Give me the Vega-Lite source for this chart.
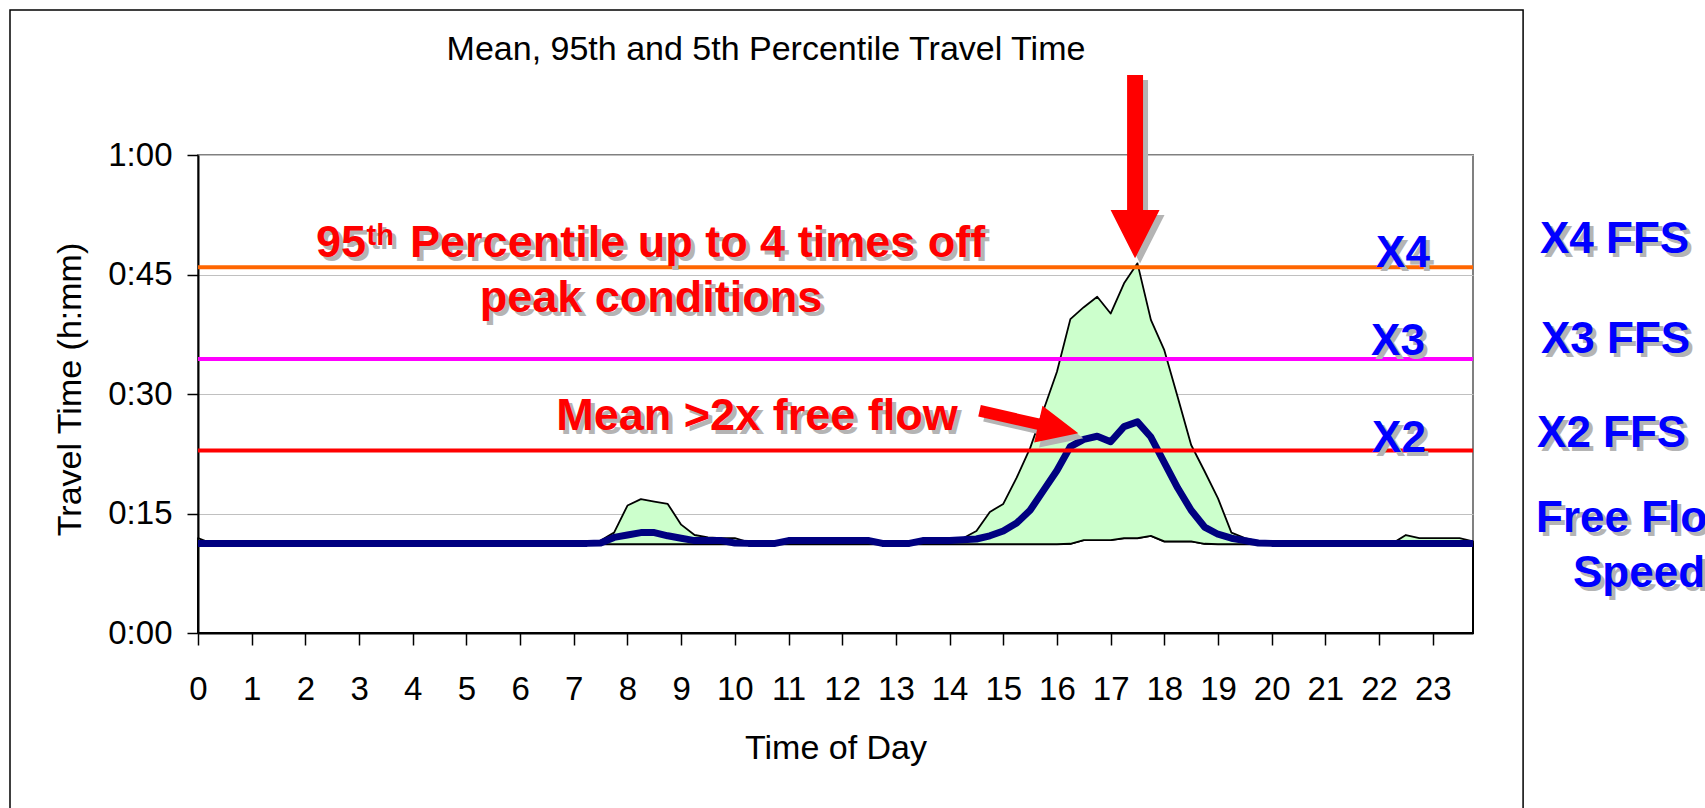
{
  "$schema": "https://vega.github.io/schema/vega-lite/v6.json",
  "width": 1275,
  "height": 478,
  "autosize": {"type": "none"},
  "padding": {"left": 198, "top": 155, "right": 232, "bottom": 175},
  "background": "white",
  "config": {
    "view": {"stroke": "#808080", "strokeWidth": 2},
    "axis": {
      "labelFont": "Liberation Sans", "labelFontSize": 33, "labelColor": "black",
      "titleFont": "Liberation Sans", "titleFontSize": 34, "titleFontWeight": "normal", "titleColor": "black",
      "domainColor": "black", "domainWidth": 2, "tickColor": "black", "tickWidth": 1.5,
      "gridColor": "#C0C0C0", "gridWidth": 1.2
    }
  },
  "datasets": {
    "tt": [
      {"hour":0,"p5":11.15,"mean":11.25,"p95":11.9},
      {"hour":0.25,"p5":11.15,"mean":11.25,"p95":11.25},
      {"hour":0.5,"p5":11.15,"mean":11.25,"p95":11.25},
      {"hour":0.75,"p5":11.15,"mean":11.25,"p95":11.25},
      {"hour":1,"p5":11.15,"mean":11.25,"p95":11.25},
      {"hour":1.25,"p5":11.15,"mean":11.25,"p95":11.25},
      {"hour":1.5,"p5":11.15,"mean":11.25,"p95":11.25},
      {"hour":1.75,"p5":11.15,"mean":11.25,"p95":11.25},
      {"hour":2,"p5":11.15,"mean":11.25,"p95":11.25},
      {"hour":2.25,"p5":11.15,"mean":11.25,"p95":11.25},
      {"hour":2.5,"p5":11.15,"mean":11.25,"p95":11.25},
      {"hour":2.75,"p5":11.15,"mean":11.25,"p95":11.25},
      {"hour":3,"p5":11.15,"mean":11.25,"p95":11.25},
      {"hour":3.25,"p5":11.15,"mean":11.25,"p95":11.25},
      {"hour":3.5,"p5":11.15,"mean":11.25,"p95":11.25},
      {"hour":3.75,"p5":11.15,"mean":11.25,"p95":11.25},
      {"hour":4,"p5":11.15,"mean":11.25,"p95":11.25},
      {"hour":4.25,"p5":11.15,"mean":11.25,"p95":11.25},
      {"hour":4.5,"p5":11.15,"mean":11.25,"p95":11.25},
      {"hour":4.75,"p5":11.15,"mean":11.25,"p95":11.25},
      {"hour":5,"p5":11.15,"mean":11.25,"p95":11.25},
      {"hour":5.25,"p5":11.15,"mean":11.25,"p95":11.25},
      {"hour":5.5,"p5":11.15,"mean":11.25,"p95":11.25},
      {"hour":5.75,"p5":11.15,"mean":11.25,"p95":11.25},
      {"hour":6,"p5":11.15,"mean":11.25,"p95":11.25},
      {"hour":6.25,"p5":11.15,"mean":11.25,"p95":11.25},
      {"hour":6.5,"p5":11.15,"mean":11.25,"p95":11.25},
      {"hour":6.75,"p5":11.15,"mean":11.25,"p95":11.25},
      {"hour":7,"p5":11.15,"mean":11.25,"p95":11.25},
      {"hour":7.25,"p5":11.15,"mean":11.25,"p95":11.25},
      {"hour":7.5,"p5":11.15,"mean":11.3,"p95":11.6},
      {"hour":7.75,"p5":11.15,"mean":12.0,"p95":12.6},
      {"hour":8,"p5":11.15,"mean":12.3,"p95":16.0},
      {"hour":8.25,"p5":11.15,"mean":12.6,"p95":16.8},
      {"hour":8.5,"p5":11.15,"mean":12.6,"p95":16.5},
      {"hour":8.75,"p5":11.15,"mean":12.2,"p95":16.2},
      {"hour":9,"p5":11.15,"mean":11.9,"p95":13.6},
      {"hour":9.25,"p5":11.15,"mean":11.6,"p95":12.3},
      {"hour":9.5,"p5":11.15,"mean":11.6,"p95":12.0},
      {"hour":9.75,"p5":11.15,"mean":11.6,"p95":11.9},
      {"hour":10,"p5":11.15,"mean":11.3,"p95":11.9},
      {"hour":10.25,"p5":11.15,"mean":11.25,"p95":11.4},
      {"hour":10.5,"p5":11.15,"mean":11.25,"p95":11.25},
      {"hour":10.75,"p5":11.15,"mean":11.25,"p95":11.25},
      {"hour":11,"p5":11.15,"mean":11.6,"p95":11.6},
      {"hour":11.25,"p5":11.15,"mean":11.6,"p95":11.6},
      {"hour":11.5,"p5":11.15,"mean":11.6,"p95":11.6},
      {"hour":11.75,"p5":11.15,"mean":11.6,"p95":11.6},
      {"hour":12,"p5":11.15,"mean":11.6,"p95":11.6},
      {"hour":12.25,"p5":11.15,"mean":11.6,"p95":11.6},
      {"hour":12.5,"p5":11.15,"mean":11.6,"p95":11.6},
      {"hour":12.75,"p5":11.15,"mean":11.25,"p95":11.25},
      {"hour":13,"p5":11.15,"mean":11.25,"p95":11.25},
      {"hour":13.25,"p5":11.15,"mean":11.25,"p95":11.25},
      {"hour":13.5,"p5":11.15,"mean":11.6,"p95":11.6},
      {"hour":13.75,"p5":11.15,"mean":11.6,"p95":11.6},
      {"hour":14,"p5":11.15,"mean":11.6,"p95":11.7},
      {"hour":14.25,"p5":11.15,"mean":11.7,"p95":11.9},
      {"hour":14.5,"p5":11.15,"mean":11.8,"p95":12.8},
      {"hour":14.75,"p5":11.15,"mean":12.2,"p95":15.2},
      {"hour":15,"p5":11.15,"mean":12.8,"p95":16.2},
      {"hour":15.25,"p5":11.15,"mean":13.8,"p95":19.5},
      {"hour":15.5,"p5":11.15,"mean":15.4,"p95":23.2},
      {"hour":15.75,"p5":11.15,"mean":17.9,"p95":28.0},
      {"hour":16,"p5":11.15,"mean":20.4,"p95":32.8},
      {"hour":16.25,"p5":11.2,"mean":23.4,"p95":39.4},
      {"hour":16.5,"p5":11.67,"mean":24.3,"p95":40.9},
      {"hour":16.75,"p5":11.67,"mean":24.7,"p95":42.2},
      {"hour":17,"p5":11.67,"mean":24.0,"p95":40.1},
      {"hour":17.25,"p5":11.9,"mean":25.9,"p95":43.9},
      {"hour":17.5,"p5":11.9,"mean":26.5,"p95":46.4},
      {"hour":17.75,"p5":12.2,"mean":24.6,"p95":39.3},
      {"hour":18,"p5":11.5,"mean":21.4,"p95":35.5},
      {"hour":18.25,"p5":11.5,"mean":18.2,"p95":29.6},
      {"hour":18.5,"p5":11.5,"mean":15.4,"p95":23.6},
      {"hour":18.75,"p5":11.2,"mean":13.3,"p95":20.3},
      {"hour":19,"p5":11.15,"mean":12.4,"p95":16.9},
      {"hour":19.25,"p5":11.15,"mean":11.9,"p95":12.6},
      {"hour":19.5,"p5":11.15,"mean":11.6,"p95":11.9},
      {"hour":19.75,"p5":11.15,"mean":11.3,"p95":11.5},
      {"hour":20,"p5":11.15,"mean":11.25,"p95":11.25},
      {"hour":20.25,"p5":11.15,"mean":11.25,"p95":11.25},
      {"hour":20.5,"p5":11.15,"mean":11.25,"p95":11.25},
      {"hour":20.75,"p5":11.15,"mean":11.25,"p95":11.25},
      {"hour":21,"p5":11.15,"mean":11.25,"p95":11.25},
      {"hour":21.25,"p5":11.15,"mean":11.25,"p95":11.25},
      {"hour":21.5,"p5":11.15,"mean":11.25,"p95":11.25},
      {"hour":21.75,"p5":11.15,"mean":11.25,"p95":11.25},
      {"hour":22,"p5":11.15,"mean":11.25,"p95":11.25},
      {"hour":22.25,"p5":11.15,"mean":11.25,"p95":11.25},
      {"hour":22.5,"p5":11.15,"mean":11.25,"p95":12.3},
      {"hour":22.75,"p5":11.15,"mean":11.25,"p95":11.9},
      {"hour":23,"p5":11.15,"mean":11.25,"p95":11.9},
      {"hour":23.25,"p5":11.15,"mean":11.25,"p95":11.9},
      {"hour":23.5,"p5":11.15,"mean":11.25,"p95":11.9},
      {"hour":23.75,"p5":11.15,"mean":11.25,"p95":11.5}
    ]
  },
  "layer": [
    {
      "data": {"name": "tt"},
      "encoding": {
        "x": {
          "field": "hour", "type": "quantitative",
          "scale": {"domain": [0, 23.75], "nice": false, "zero": false},
          "axis": {
            "values": [0,1,2,3,4,5,6,7,8,9,10,11,12,13,14,15,16,17,18,19,20,21,22,23],
            "title": "Time of Day", "grid": false, "tickSize": 12, "labelPadding": 28,
            "labelFlush": false, "labelOverlap": false, "labelBound": false,
            "titleY": 125, "titleBaseline": "alphabetic"
          }
        }
      },
      "layer": [
        {
          "mark": {"type": "area", "fillOpacity": 0, "stroke": "black", "strokeWidth": 2},
          "encoding": {
            "y": {
              "field": "p5", "type": "quantitative",
              "scale": {"domain": [0, 60], "nice": false},
              "axis": {
                "values": [0, 15, 30, 45, 60],
                "labelExpr": "floor(datum.value/60) + ':' + (datum.value % 60 < 10 ? '0' : '') + (datum.value % 60)",
                "title": "Travel Time (h:mm)", "grid": true, "tickSize": 11, "labelPadding": 15,
                "titleX": -118, "titleY": 234, "titleAngle": -90, "titleAlign": "center", "titleBaseline": "alphabetic"
              }
            }
          }
        },
        {
          "mark": {"type": "area", "fill": "#CCFFCC", "fillOpacity": 1, "stroke": "black", "strokeWidth": 1.8, "strokeJoin": "round"},
          "encoding": {
            "y": {"field": "p95", "type": "quantitative"},
            "y2": {"field": "p5"}
          }
        },
        {
          "mark": {"type": "line", "color": "#000080", "strokeWidth": 7, "strokeJoin": "round"},
          "encoding": {"y": {"field": "mean", "type": "quantitative"}}
        }
      ]
    },
    {
      "data": {"values": [{"level": "X4", "minutes": 45.9}, {"level": "X3", "minutes": 34.4}, {"level": "X2", "minutes": 22.9}]},
      "mark": {"type": "rule", "strokeWidth": 4},
      "encoding": {
        "y": {"field": "minutes", "type": "quantitative"},
        "color": {"field": "level", "type": "nominal", "scale": {"domain": ["X4", "X3", "X2"], "range": ["#FF6600", "#FF00FF", "#FF0000"]}, "legend": null}
      }
    },
    {
      "data": {"values": [{}]},
      "mark": {"type": "rect", "fillOpacity": 0, "stroke": "black", "strokeWidth": 1.5},
      "encoding": {
        "x": {"datum": -3.502, "type": "quantitative"},
        "x2": {"datum": 24.683},
        "y": {"datum": 78.2, "type": "quantitative"},
        "y2": {"datum": -25}
      }
    },
    {
      "data": {"values": [{}]},
      "layer": [
        {
          "mark": {"type": "point", "shape": "M-0.087,-1L0.087,-1L0.087,0.473L0.267,0.473L0,1L-0.267,0.473L-0.087,0.473Z", "size": 33599, "filled": true, "color": "#B4B4B4", "strokeWidth": 0, "opacity": 1},
          "encoding": {"x": {"datum": 17.548, "type": "quantitative"}, "y": {"datum": 57.9, "type": "quantitative"}}
        },
        {
          "mark": {"type": "point", "shape": "M-0.087,-1L0.087,-1L0.087,0.473L0.267,0.473L0,1L-0.267,0.473L-0.087,0.473Z", "size": 33599, "filled": true, "color": "#FF0000", "strokeWidth": 0, "opacity": 1},
          "encoding": {"x": {"datum": 17.455, "type": "quantitative"}, "y": {"datum": 58.53, "type": "quantitative"}}
        },
        {
          "mark": {"type": "point", "shape": "M-1,-0.115L0.19,-0.115L0.19,-0.371L1,0L0.19,0.371L0.19,0.115L-1,0.115Z", "size": 10262, "angle": 12.83, "filled": true, "color": "#B4B4B4", "strokeWidth": 0, "opacity": 1},
          "encoding": {"x": {"datum": 15.571, "type": "quantitative"}, "y": {"datum": 25.85, "type": "quantitative"}}
        },
        {
          "mark": {"type": "point", "shape": "M-1,-0.115L0.19,-0.115L0.19,-0.371L1,0L0.19,0.371L0.19,0.115L-1,0.115Z", "size": 10262, "angle": 12.83, "filled": true, "color": "#FF0000", "strokeWidth": 0, "opacity": 1},
          "encoding": {"x": {"datum": 15.478, "type": "quantitative"}, "y": {"datum": 26.48, "type": "quantitative"}}
        }
      ]
    },
    {
      "data": {"values": [{"label": "Mean, 95th and 5th Percentile Travel Time", "hour": 10.58, "minutes": 71.92}]},
      "mark": {"type": "text", "font": "Liberation Sans", "fontSize": 34, "color": "black", "align": "center", "baseline": "alphabetic"},
      "encoding": {
        "x": {"field": "hour", "type": "quantitative"},
        "y": {"field": "minutes", "type": "quantitative"},
        "text": {"field": "label"}
      }
    },
    {
      "data": {"values": [
        {"label": "95", "hour": 2.198, "minutes": 47.2},
        {"label": "Percentile up to 4 times off", "hour": 3.95, "minutes": 47.2}
      ]},
      "encoding": {
        "x": {"field": "hour", "type": "quantitative"},
        "y": {"field": "minutes", "type": "quantitative"},
        "text": {"field": "label"}
      },
      "layer": [
        {"mark": {"type": "text", "font": "Liberation Sans", "fontWeight": "bold", "fontSize": 45, "color": "#B4B4B4", "align": "left", "baseline": "alphabetic", "dx": 4, "dy": 4}},
        {"mark": {"type": "text", "font": "Liberation Sans", "fontWeight": "bold", "fontSize": 45, "color": "#FF0000", "align": "left", "baseline": "alphabetic"}}
      ]
    },
    {
      "data": {"values": [{"label": "th", "hour": 3.14, "minutes": 48.7}]},
      "encoding": {
        "x": {"field": "hour", "type": "quantitative"},
        "y": {"field": "minutes", "type": "quantitative"},
        "text": {"field": "label"}
      },
      "layer": [
        {"mark": {"type": "text", "font": "Liberation Sans", "fontWeight": "bold", "fontSize": 29, "color": "#B4B4B4", "align": "left", "baseline": "alphabetic", "dx": 4, "dy": 4}},
        {"mark": {"type": "text", "font": "Liberation Sans", "fontWeight": "bold", "fontSize": 29, "color": "#FF0000", "align": "left", "baseline": "alphabetic"}}
      ]
    },
    {
      "data": {"values": [
        {"label": "peak conditions", "hour": 8.438, "minutes": 40.33},
        {"label": "Mean >2x free flow", "hour": 10.413, "minutes": 25.48}
      ]},
      "encoding": {
        "x": {"field": "hour", "type": "quantitative"},
        "y": {"field": "minutes", "type": "quantitative"},
        "text": {"field": "label"}
      },
      "layer": [
        {"mark": {"type": "text", "font": "Liberation Sans", "fontWeight": "bold", "fontSize": 45, "color": "#B4B4B4", "align": "center", "baseline": "alphabetic", "dx": 4, "dy": 4}},
        {"mark": {"type": "text", "font": "Liberation Sans", "fontWeight": "bold", "fontSize": 45, "color": "#FF0000", "align": "center", "baseline": "alphabetic"}}
      ]
    },
    {
      "data": {"values": [
        {"label": "X4", "hour": 22.446, "minutes": 45.98},
        {"label": "X3", "hour": 22.353, "minutes": 34.93},
        {"label": "X2", "hour": 22.372, "minutes": 22.72}
      ]},
      "encoding": {
        "x": {"field": "hour", "type": "quantitative"},
        "y": {"field": "minutes", "type": "quantitative"},
        "text": {"field": "label"}
      },
      "layer": [
        {"mark": {"type": "text", "font": "Liberation Sans", "fontWeight": "bold", "fontSize": 44, "color": "#B4B4B4", "align": "center", "baseline": "alphabetic", "dx": 4, "dy": 4}},
        {"mark": {"type": "text", "font": "Liberation Sans", "fontWeight": "bold", "fontSize": 44, "color": "#0000FF", "align": "center", "baseline": "alphabetic"}}
      ]
    },
    {
      "data": {"values": [
        {"label": "X4 FFS", "hour": 24.998, "minutes": 47.7},
        {"label": "X3 FFS", "hour": 25.017, "minutes": 35.18},
        {"label": "X2 FFS", "hour": 24.943, "minutes": 23.38},
        {"label": "Free Flow", "hour": 24.924, "minutes": 12.72},
        {"label": "Speed", "hour": 25.613, "minutes": 5.81}
      ]},
      "encoding": {
        "x": {"field": "hour", "type": "quantitative"},
        "y": {"field": "minutes", "type": "quantitative"},
        "text": {"field": "label"}
      },
      "layer": [
        {"mark": {"type": "text", "font": "Liberation Sans", "fontWeight": "bold", "fontSize": 44, "color": "#B4B4B4", "align": "left", "baseline": "alphabetic", "dx": 4, "dy": 4}},
        {"mark": {"type": "text", "font": "Liberation Sans", "fontWeight": "bold", "fontSize": 44, "color": "#0000FF", "align": "left", "baseline": "alphabetic"}}
      ]
    }
  ]
}
